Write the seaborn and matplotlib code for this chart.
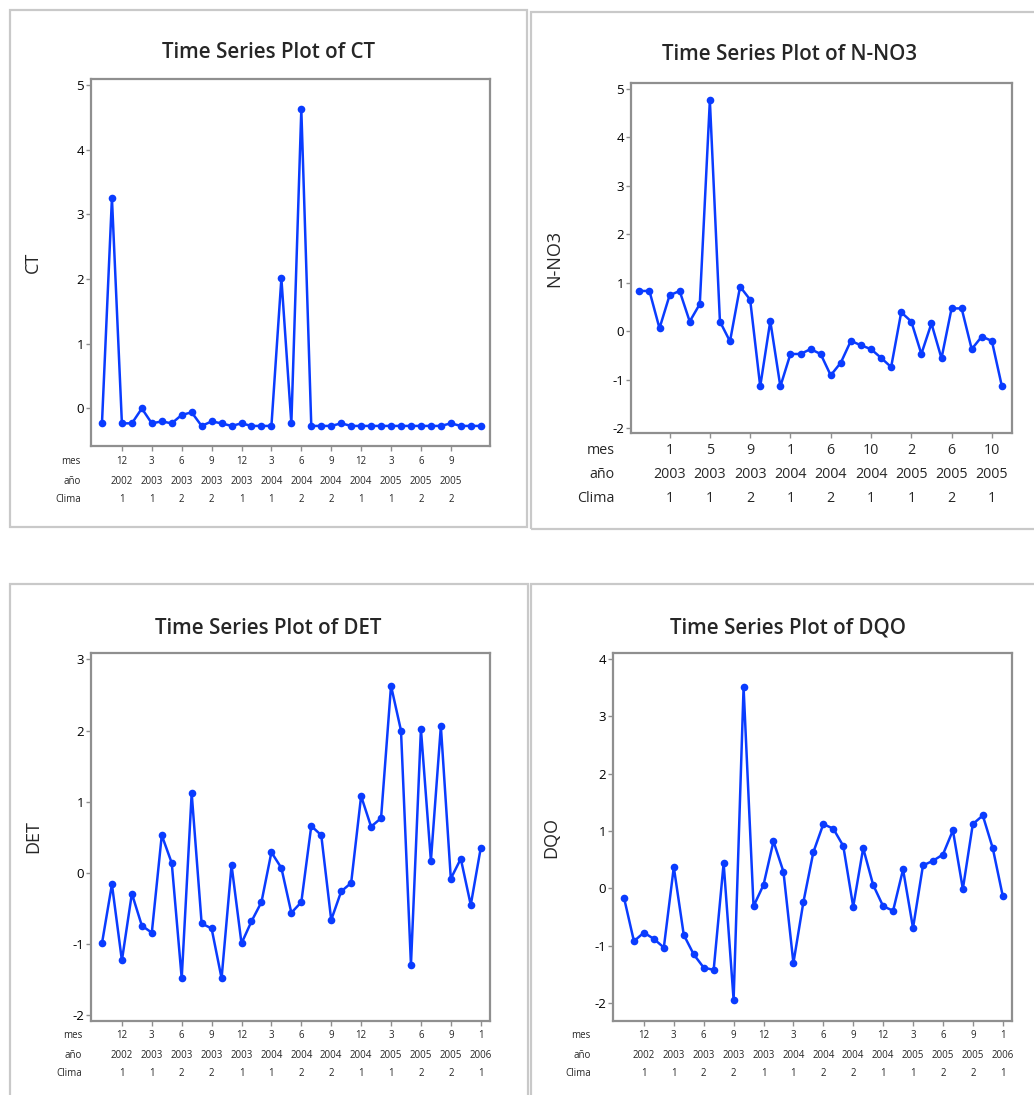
import numpy as np
import pandas as pd
import matplotlib
matplotlib.use("Agg")
import matplotlib.pyplot as plt
import seaborn as sns
from matplotlib.patches import Rectangle

# ---------------- data ----------------
ct_values = [-0.23, 3.25, -0.23, -0.23, 0.0, -0.23, -0.20, -0.23, -0.10, -0.06,
             -0.27, -0.20, -0.23, -0.27, -0.23, -0.27, -0.27, -0.27, 2.01, -0.23,
             4.62, -0.27, -0.27, -0.27, -0.23, -0.27, -0.27, -0.27, -0.27, -0.27,
             -0.27, -0.27, -0.27, -0.27, -0.27, -0.23, -0.27, -0.27, -0.27]
no3_values = [0.83, 0.83, 0.06, 0.74, 0.83, 0.20, 0.56, 4.76, 0.20, -0.21,
              0.92, 0.65, -1.14, 0.21, -1.14, -0.47, -0.47, -0.37, -0.47, -0.91,
              -0.65, -0.20, -0.29, -0.37, -0.55, -0.74, 0.39, 0.20, -0.47, 0.16,
              -0.56, 0.47, 0.47, -0.37, -0.11, -0.20, -1.14]
det_values = [-0.99, -0.16, -1.23, -0.29, -0.74, -0.84, 0.53, 0.14, -1.48, 1.12,
              -0.71, -0.78, -1.48, 0.11, -0.99, -0.68, -0.41, 0.29, 0.07, -0.56,
              -0.41, 0.66, 0.53, -0.66, -0.26, -0.14, 1.08, 0.65, 0.77, 2.63,
              2.00, -1.29, 2.02, 0.17, 2.06, -0.08, 0.20, -0.45, 0.35]
dqo_values = [-0.16, -0.92, -0.77, -0.88, -1.03, 0.37, -0.81, -1.15, -1.38, -1.42,
              0.44, -1.94, 3.50, -0.31, 0.06, 0.82, 0.29, -1.30, -0.24, 0.63,
              1.12, 1.04, 0.74, -0.32, 0.70, 0.06, -0.31, -0.39, 0.33, -0.69,
              0.40, 0.48, 0.59, 1.01, -0.01, 1.12, 1.27, 0.70, -0.13]

ct_mes = ["12", "3", "6", "9", "12", "3", "6", "9", "12", "3", "6", "9"]
ct_anio = ["2002", "2003", "2003", "2003", "2003", "2004", "2004", "2004",
           "2004", "2005", "2005", "2005"]
ct_clima = ["1", "1", "2", "2", "1", "1", "2", "2", "1", "1", "2", "2"]
ct_tick_idx = [2, 5, 8, 11, 14, 17, 20, 23, 26, 29, 32, 35]

no3_mes = ["1", "5", "9", "1", "6", "10", "2", "6", "10"]
no3_anio = ["2003", "2003", "2003", "2004", "2004", "2004", "2005", "2005", "2005"]
no3_clima = ["1", "1", "2", "1", "2", "1", "1", "2", "1"]
no3_tick_idx = [3, 7, 11, 15, 19, 23, 27, 31, 35]

dd_mes = ["12", "3", "6", "9", "12", "3", "6", "9", "12", "3", "6", "9", "1"]
dd_anio = ["2002", "2003", "2003", "2003", "2003", "2004", "2004", "2004",
           "2004", "2005", "2005", "2005", "2006"]
dd_clima = ["1", "1", "2", "2", "1", "1", "2", "2", "1", "1", "2", "2", "1"]
dd_tick_idx = [2, 5, 8, 11, 14, 17, 20, 23, 26, 29, 32, 35, 38]

# ---------------- style ----------------
sns.set_style("white")
plt.rcParams['font.family'] = ['Open Sans', 'DejaVu Sans']
plt.rcParams['axes.unicode_minus'] = False

W, H = 1034, 1095
PT = 0.72  # px -> pt at dpi 100
fig = plt.figure(figsize=(W / 100, H / 100), dpi=100)
fig.patch.set_facecolor("white")

LINE_C = "#0a3cff"
FRAME_C = "#8f8f8f"
BOX_C = "#c9c9c9"


def box(l, t, r, b):
    fig.add_artist(Rectangle((l / W, 1 - b / H), (r - l) / W, (b - t) / H,
                             transform=fig.transFigure, fill=False,
                             ec=BOX_C, lw=1.6))


box(10, 10, 527, 527)
box(531, 12, 1045, 529)
box(10, 584, 528, 1105)
box(531, 584, 1045, 1105)


def panel(frame, values, title, title_xy, ylabel, ylabel_x, xlim, ylim, yticks,
          tick_idx, mes, anio, clima, row_offs, row_label_r, row_fs):
    l, t, r, b = frame
    ax = fig.add_axes([l / W, 1 - b / H, (r - l) / W, (b - t) / H])
    df = pd.DataFrame({"idx": np.arange(len(values)), "val": values})
    sns.lineplot(data=df, x="idx", y="val", ax=ax, color=LINE_C, lw=1.8,
                 marker="o", markersize=5.5, markeredgecolor=LINE_C,
                 markerfacecolor=LINE_C, markeredgewidth=0)
    ax.set_xlim(*xlim)
    ax.set_ylim(*ylim)
    ax.set_yticks(yticks)
    ax.set_yticklabels([str(v) for v in yticks])
    ax.set_xticks(tick_idx)
    ax.set_xticklabels([])
    ax.set_xlabel("")
    ax.set_ylabel(ylabel, fontsize=13, fontweight="medium")
    ax.yaxis.set_label_coords((ylabel_x - l) / (r - l), 0.5)
    for s in ax.spines.values():
        s.set_color(FRAME_C)
        s.set_linewidth(1.6)
        s.set_visible(True)
    ax.tick_params(axis="both", direction="out", length=3.5, width=1,
                   color=FRAME_C, labelsize=9.5, pad=1.5, labelcolor="black")
    ax.tick_params(axis="x", bottom=True)
    ax.tick_params(axis="y", left=True)
    # multi-row x labels
    for rowvals, off, head in zip([mes, anio, clima], row_offs,
                                  ["mes", "año", "Clima"]):
        for xi, txt in zip(tick_idx, rowvals):
            ax.annotate(txt, xy=(xi, 0), xycoords=("data", "axes fraction"),
                        xytext=(0, -off * PT), textcoords="offset points",
                        ha="center", va="center", fontsize=row_fs)
        ax.annotate(head, xy=(0, 0), xycoords="axes fraction",
                    xytext=(-(l - row_label_r) * PT, -off * PT),
                    textcoords="offset points", ha="right", va="center",
                    fontsize=row_fs)
    fig.text(title_xy[0] / W, 1 - title_xy[1] / H, title, ha="center",
             va="center", fontsize=14.8, fontweight="semibold")
    return ax


panel((91, 79, 490, 446), ct_values, "Time Series Plot of CT", (268, 52),
      "CT", 42, (-1.1, 38.93), (-0.58, 5.09), [0, 1, 2, 3, 4, 5],
      ct_tick_idx, ct_mes, ct_anio, ct_clima, (16, 35, 54), 81, 7)

panel((631, 83, 1012, 433), no3_values, "Time Series Plot of N-NO3", (789, 55),
      "N-NO3", 563, (-0.83, 37.0), (-2.1, 5.12), [-2, -1, 0, 1, 2, 3, 4, 5],
      no3_tick_idx, no3_mes, no3_anio, no3_clima, (17, 41, 66), 615, 10.3)

panel((91, 653, 490, 1021), det_values, "Time Series Plot of DET", (268, 628),
      "DET", 42, (-1.1, 38.93), (-2.08, 3.09), [-2, -1, 0, 1, 2, 3],
      dd_tick_idx, dd_mes, dd_anio, dd_clima, (14, 34, 52), 82, 7)

panel((613, 653, 1012, 1021), dqo_values, "Time Series Plot of DQO", (788, 628),
      "DQO", 560, (-1.1, 38.93), (-2.31, 4.10), [-2, -1, 0, 1, 2, 3, 4],
      dd_tick_idx, dd_mes, dd_anio, dd_clima, (14, 34, 52), 591, 7)

fig.savefig("out.png", dpi=100, facecolor="white")
